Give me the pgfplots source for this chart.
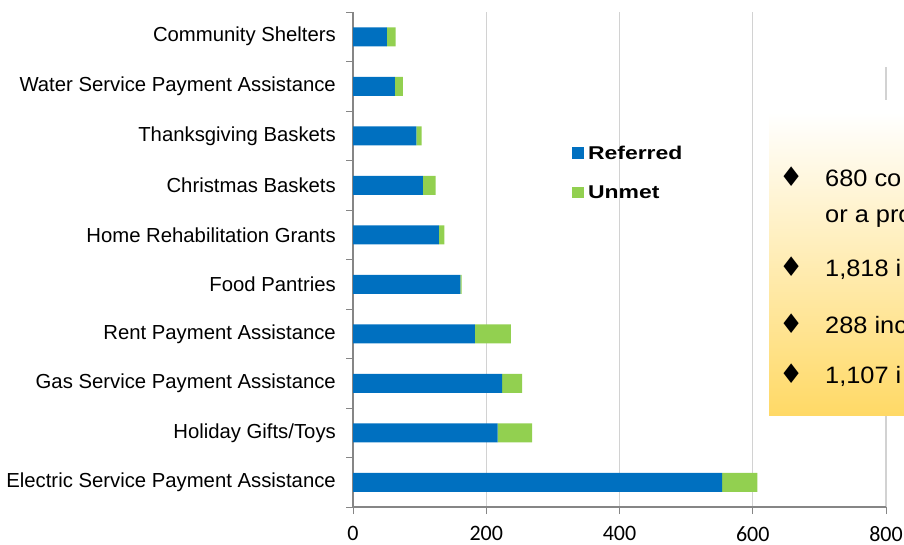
\documentclass[border=0pt]{standalone}
\usepackage{fontspec}
\setmainfont{Liberation Sans}
\newfontfamily\numfont{Carlito}
\newfontfamily\legfont[FakeStretch=1.24]{Liberation Sans}
\newfontfamily\boxfont[FakeStretch=1.07]{Liberation Sans}
\newfontfamily\symfont{DejaVu Sans}
\usepackage{pgfplots}
\pgfplotsset{compat=1.18}
\definecolor{refblue}{RGB}{0,112,192}
\definecolor{unmetgreen}{RGB}{146,208,80}
\definecolor{axisgray}{RGB}{134,134,134}
\definecolor{gridgray}{RGB}{210,210,210}
\definecolor{boxyellow}{RGB}{255,217,102}

\begin{document}
\begin{tikzpicture}[x=1pt,y=1pt]
\useasboundingbox (0,0) rectangle (904,544);
\clip (0,0) rectangle (904,544);
\begin{axis}[
  at={(353pt,37pt)}, anchor=south west,
  scale only axis, width=533pt, height=495pt,
  xbar stacked, bar width=19pt,
  xmin=0, xmax=800, ymin=-0.5, ymax=9.5,
  xtick={0,200,400,600,800},
  xmajorgrids, major grid style={gridgray, line width=1.2pt},
  axis x line*=bottom, axis y line*=left,
  axis line style={axisgray, line width=1.2pt},
  tick align=outside, major tick length=7pt, minor tick length=7pt,
  tick style={axisgray, line width=1pt},
  ytick={0,...,9},
  minor ytick={-0.5,0.5,...,9.5},
  every major y tick/.append style={draw=none},
  yticklabels={Electric Service Payment Assistance, Holiday Gifts/Toys,
    Gas Service Payment Assistance, Rent Payment Assistance, Food Pantries,
    Home Rehabilitation Grants, Christmas Baskets, Thanksgiving Baskets,
    Water Service Payment Assistance, Community Shelters},
  yticklabel style={font=\fontsize{20.3}{20.3}\selectfont, anchor=east, inner sep=0pt, xshift=-10pt},
  xticklabel style={font=\numfont\fontsize{22}{22}\selectfont, anchor=north, inner sep=0pt, yshift=-12pt},
  /pgf/number format/assume math mode=true,
  legend style={draw=none, fill=none, at={(axis cs:328.5,6.79)}, anchor=north west,
    font=\legfont\bfseries\fontsize{18.5}{18.5}\selectfont, row sep=25pt, column sep=4pt,
    inner sep=0pt, nodes={inner sep=0pt}},
  legend cell align=left,
  legend image code/.code={\fill[#1] (0pt,-5pt) rectangle (12pt,6.5pt);},
]
\addplot[fill=refblue, draw=none] coordinates {
  (554,0) (217,1) (224,2) (183,3) (161,4) (129,5) (105,6) (95,7) (63,8) (51,9)};
\addlegendentry{Referred}
\addplot[fill=unmetgreen, draw=none] coordinates {
  (53,0) (52,1) (30,2) (54,3) (2,4) (8,5) (19,6) (8,7) (12,8) (13,9)};
\addlegendentry{Unmet}
\end{axis}
% text box laid over the right of the chart
\fill[white] (860,477) rectangle (904,544);
\fill[white] (860,431) rectangle (904,444);
\shade[top color=white, bottom color=boxyellow] (769,129) rectangle (910,431);
\begin{scope}[every node/.style={anchor=base west, inner sep=0pt, font=\boxfont\fontsize{23.7}{23.7}\selectfont},
  bul/.style={font=\symfont\fontsize{27}{27}\selectfont}]
\node[bul] at (779,357) {♦};
\node at (825,357) {680 co};
\node at (825,321) {or a pro};
\node[bul] at (779,267) {♦};
\node at (825,267) {1,818 i};
\node[bul] at (779,211) {♦};
\node at (825,211) {288 inc};
\node[bul] at (779,161) {♦};
\node at (825,161) {1,107 i};
\end{scope}
\end{tikzpicture}
\end{document}
